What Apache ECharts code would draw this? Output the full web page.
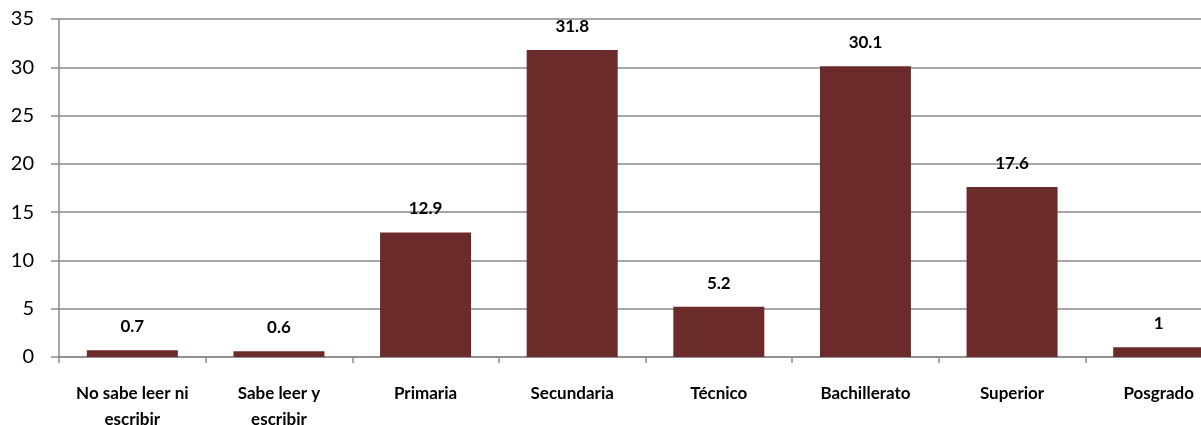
<!DOCTYPE html>
<html>
<head>
<meta charset="utf-8">
<script src="https://cdn.jsdelivr.net/npm/echarts@6/dist/echarts.min.js"></script>
<style>
  html, body { margin: 0; padding: 0; background: #fff; }
  #main { width: 1201px; height: 425px; }
</style>
</head>
<body>
<div id="main"></div>
<script>
  // niveles de escolaridad
  var categorias = ['No sabe leer ni\nescribir', 'Sabe leer y\nescribir', 'Primaria', 'Secundaria',
    'Técnico', 'Bachillerato', 'Superior', 'Posgrado']
  var porcentajes = [0.7, 0.6, 12.9, 31.8, 5.2, 30.1, 17.6, 1]
  var yTicks = [0, 5, 10, 15, 20, 25, 30, 35]

  var chart = echarts.init(document.getElementById('main'))
  chart.setOption({
    animation: false,
    grid: {
      left: 59,
      top: 19,
      width: 1173,
      height: 338,
      outerBoundsMode: 'none',
      containLabel: false
    },
    xAxis: {
      type: 'category',
      data: categorias,
      axisLine: { lineStyle: { color: '#8a8a8a', width: 1.5 } },
      axisTick: { show: true, length: 6, alignWithLabel: false, lineStyle: { color: '#8a8a8a', width: 1.5 } },
      axisLabel: {
        interval: 0,
        margin: 24,
        color: '#000',
        fontFamily: 'Lato',
        fontWeight: 'bold',
        fontSize: 17,
        lineHeight: 26
      }
    },
    yAxis: {
      type: 'value',
      min: yTicks[0],
      max: yTicks[yTicks.length - 1],
      interval: 5,
      axisLine: { show: true, lineStyle: { color: '#8a8a8a', width: 1.5 } },
      axisTick: { show: true, length: 8, lineStyle: { color: '#8a8a8a', width: 1.5 } },
      splitLine: { lineStyle: { color: '#8a8a8a', width: 1.5 } },
      axisLabel: {
        margin: 25,
        color: '#000',
        fontFamily: 'Lato',
        fontSize: 20
      }
    },
    series: [{
      type: 'bar',
      data: porcentajes,
      barWidth: 91,
      itemStyle: { color: '#6b2b2b' },
      label: {
        show: true,
        position: 'top',
        distance: 15,
        color: '#000',
        fontFamily: 'Lato',
        fontWeight: 'bold',
        fontSize: 17
      }
    }]
  })
</script>
</body>
</html>
